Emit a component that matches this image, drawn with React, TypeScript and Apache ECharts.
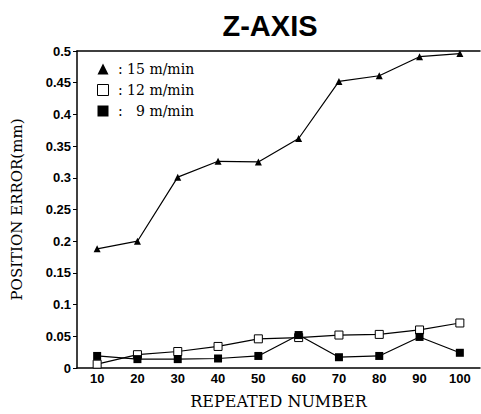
import React, { useEffect, useRef } from "react";
import * as echarts from "echarts";

const categories = ["10", "20", "30", "40", "50", "60", "70", "80", "90", "100"];
const s15 = [0.188, 0.2, 0.301, 0.326, 0.325, 0.362, 0.452, 0.461, 0.491, 0.496];
const s12 = [0.006, 0.021, 0.026, 0.034, 0.046, 0.048, 0.052, 0.053, 0.06, 0.071];
const s9 = [0.019, 0.014, 0.014, 0.015, 0.019, 0.052, 0.017, 0.019, 0.049, 0.024];
const legendLabels: Record<string, string> = {
  "15 m/min": " : 15 m/min",
  "12 m/min": " : 12 m/min",
  "9 m/min": " :   9 m/min",
};

export default function App() {
  const ref = useRef<HTMLDivElement>(null);
  useEffect(() => {
    if (!ref.current) return;
    const chart = echarts.init(ref.current, null, { renderer: "svg" });
    const sans = "Liberation Sans";
    const serif = "DejaVu Serif";
    chart.setOption({
      animation: false,
      backgroundColor: "#fff",
      title: {
        text: "Z-AXIS",
        left: 265,
        textAlign: "center",
        top: 6,
        textStyle: { fontFamily: sans, fontWeight: "bold", fontSize: 29, color: "#000" },
      },
      legend: {
        orient: "vertical",
        left: 92,
        top: 57,
        itemWidth: 11,
        itemHeight: 11,
        itemGap: 7,
        textStyle: { fontFamily: serif, fontSize: 14, color: "#000" },
        formatter: (n: string) => legendLabels[n] || n,
        data: [
          { name: "15 m/min", icon: "triangle", itemStyle: { color: "#000" } },
          { name: "12 m/min", icon: "rect", itemStyle: { color: "#fff", borderColor: "#000", borderWidth: 1 } },
          { name: "9 m/min", icon: "rect", itemStyle: { color: "#000" } },
        ],
      },
      grid: { left: 77, right: 1, top: 51, bottom: 41, containLabel: false },
      xAxis: [
        {
          type: "category",
          data: categories,
          boundaryGap: true,
          name: "REPEATED NUMBER",
          nameLocation: "middle",
          nameGap: 25,
          nameTextStyle: { fontFamily: serif, fontSize: 16, color: "#000" },
          axisLine: { lineStyle: { color: "#000", width: 1.5 } },
          axisTick: { show: false },
          axisLabel: { fontFamily: sans, fontWeight: "bold", fontSize: 13, color: "#000", margin: 4 },
        },
        {
          type: "category",
          data: categories,
          position: "top",
          axisLine: { lineStyle: { color: "#000", width: 1.5 } },
          axisTick: { show: false },
          axisLabel: { show: false },
        },
      ],
      yAxis: {
        type: "value",
        min: 0,
        max: 0.5,
        interval: 0.05,
        name: "POSITION ERROR(mm)",
        nameLocation: "middle",
        nameGap: 53,
        nameTextStyle: { fontFamily: serif, fontSize: 15, color: "#000" },
        axisLine: { show: true, lineStyle: { color: "#000", width: 1.5 } },
        axisTick: { show: true, length: 4, lineStyle: { color: "#000" } },
        splitLine: { show: false },
        axisLabel: {
          fontFamily: sans,
          fontWeight: "bold",
          fontSize: 13,
          color: "#000",
          margin: 6,
          formatter: (v: number) => String(parseFloat(v.toFixed(2))),
        },
      },
      series: [
        {
          name: "15 m/min",
          type: "line",
          data: s15,
          symbol: "triangle",
          symbolSize: 7,
          lineStyle: { color: "#000", width: 1.2 },
          itemStyle: { color: "#000" },
        },
        {
          name: "12 m/min",
          type: "line",
          data: s12,
          symbol: "rect",
          symbolSize: 8,
          lineStyle: { color: "#000", width: 1.2 },
          itemStyle: { color: "#fff", borderColor: "#000", borderWidth: 1 },
        },
        {
          name: "9 m/min",
          type: "line",
          data: s9,
          symbol: "rect",
          symbolSize: 8,
          lineStyle: { color: "#000", width: 1.2 },
          itemStyle: { color: "#000" },
        },
      ],
    });
    return () => chart.dispose();
  }, []);
  return <div ref={ref} style={{ width: 481, height: 414, position: "fixed", left: 0, top: 0 }} />;
}
